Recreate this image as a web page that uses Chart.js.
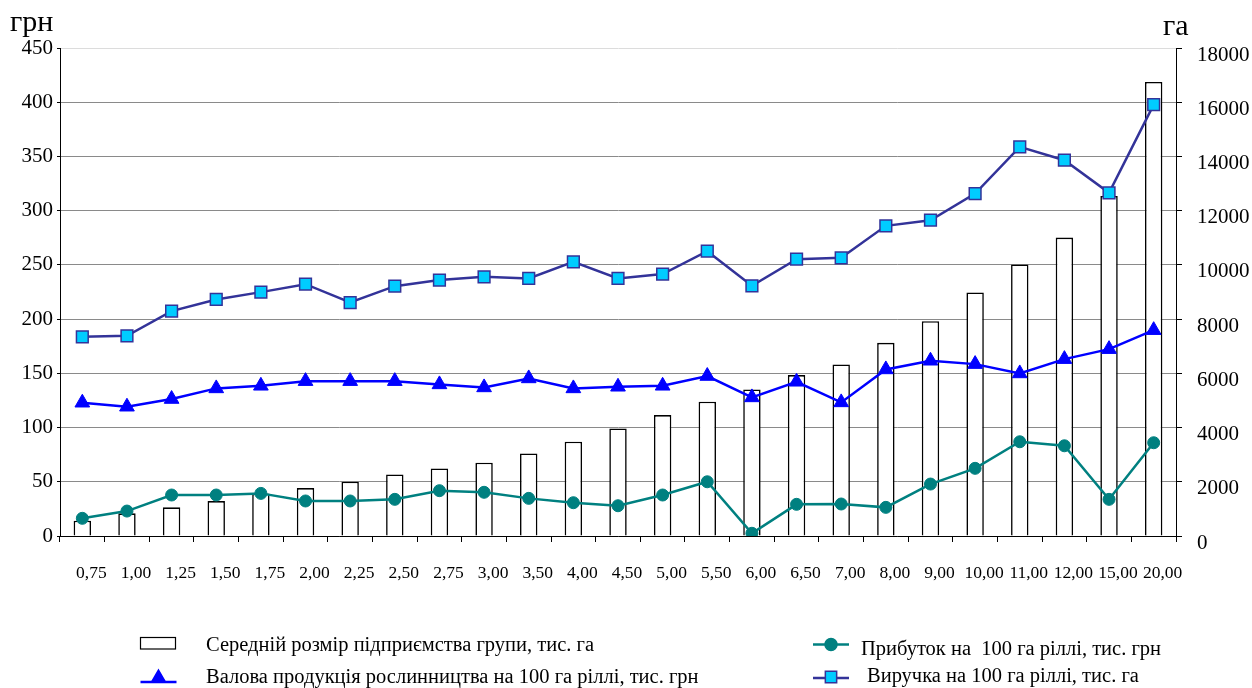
<!DOCTYPE html>
<html>
<head>
<meta charset="utf-8">
<script src="https://cdn.jsdelivr.net/npm/chart.js@4"></script>
<style>
  body { margin: 0; background: #fff; }
</style>
</head>
<body>
<canvas id="myChart" width="1252" height="688"></canvas>
<script>
const labels = ['0,75', '1,00', '1,25', '1,50', '1,75', '2,00', '2,25', '2,50', '2,75', '3,00',
    '3,50', '4,00', '4,50', '5,00', '5,50', '6,00', '6,50', '7,00', '8,00', '9,00',
    '10,00', '11,00', '12,00', '15,00', '20,00'];

// середній розмір підприємства, га (права вісь)
const sizeHa = [564, 836, 1057, 1290, 1565, 1769, 2003, 2273, 2494, 2703,
    3047, 3477, 3968, 4460, 4951, 5406, 5934, 6328, 7127, 7925,
    8982, 10014, 11009, 12545, 16747];

// ліва вісь, грн
const grossOutput = [122.9, 119.2, 126.3, 136.1, 138.5, 142.8, 142.8, 142.8, 139.8, 137.0,
    145.3, 136.1, 137.6, 138.5, 147.5, 127.8, 142.2, 123.2, 153.6, 161.6,
    158.5, 149.9, 163.1, 172.3, 189.8];
const profit = [16.3, 23.0, 37.8, 37.8, 39.3, 32.3, 32.3, 33.8, 41.8, 40.3,
    34.7, 30.7, 27.9, 37.8, 50.0, 2.5, 29.2, 29.5, 26.4, 47.9,
    62.4, 86.9, 83.2, 33.8, 86.0];
const revenue = [183.7, 184.6, 207.4, 218.1, 224.9, 232.2, 215.3, 230.4, 236.0, 239.0,
    237.5, 252.8, 237.5, 241.5, 262.6, 230.7, 255.3, 256.5, 286.0, 291.2,
    315.8, 358.8, 346.5, 316.4, 397.8];

const legendNames = [
    'Середній розмір підприємства групи, тис. га',
    'Валова продукція рослинництва на 100 га ріллі, тис. грн',
    'Прибуток на  100 га ріллі, тис. грн',
    'Виручка на 100 га ріллі, тис. га'
];

const serif = 'Liberation Serif, Times New Roman, serif';

const BLUE = '#0000FF';
const TEAL = '#008080';
const NAVY = '#333399';
const CYAN = '#00CCFF';

// підписи одиниць та легенда
const extras = {
    id: 'extras',
    afterDraw(chart) {
        const c = chart.ctx;
        c.save();
        c.fillStyle = '#000';
        c.font = '30px ' + serif;
        c.textBaseline = 'alphabetic';
        c.textAlign = 'left';
        c.fillText('грн', 10, 31);
        c.fillText('га', 1163, 35);

        // bar icon
        c.fillStyle = '#fff';
        c.strokeStyle = '#000';
        c.lineWidth = 1.2;
        c.fillRect(140.5, 637.5, 35, 11.5);
        c.strokeRect(140.5, 637.5, 35, 11.5);

        function lineIcon(x, lineY, y, color, style, fill, radius) {
            c.strokeStyle = color;
            c.lineWidth = 2.5;
            c.beginPath();
            c.moveTo(x - 18, lineY);
            c.lineTo(x + 18, lineY);
            c.stroke();
            c.fillStyle = fill;
            c.strokeStyle = color;
            c.lineWidth = 1.5;
            Chart.helpers.drawPoint(c, {pointStyle: style, radius: radius, borderWidth: 1.5}, x, y);
        }
        lineIcon(158.5, 682, 678, BLUE, 'triangle', BLUE, 8);
        lineIcon(831, 644.5, 644.5, TEAL, 'circle', TEAL, 6);
        lineIcon(831, 678, 677, NAVY, 'rect', CYAN, 8);

        c.fillStyle = '#000';
        c.font = '20.5px ' + serif;
        c.fillText(legendNames[0], 206, 650.5);
        c.fillText(legendNames[1], 206, 683);
        c.fillText(legendNames[2], 861, 655);
        c.fillText(legendNames[3], 867, 681.5);
        c.restore();
    }
};

const config = {
    type: 'bar',
    data: {
        labels: labels,
        datasets: [{
            type: 'line',
            label: legendNames[3],
            data: revenue,
            yAxisID: 'y',
            borderColor: NAVY,
            borderWidth: 2.5,
            pointStyle: 'rect',
            pointRadius: 8.3,
            pointBackgroundColor: CYAN,
            pointBorderColor: NAVY,
            pointBorderWidth: 1.5,
            tension: 0,
            order: 1
        }, {
            type: 'line',
            label: legendNames[1],
            data: grossOutput,
            yAxisID: 'y',
            borderColor: BLUE,
            borderWidth: 2.5,
            pointStyle: 'triangle',
            pointRadius: 8.5,
            pointBackgroundColor: BLUE,
            pointBorderColor: BLUE,
            pointBorderWidth: 1,
            tension: 0,
            order: 2
        }, {
            type: 'line',
            label: legendNames[2],
            data: profit,
            yAxisID: 'y',
            borderColor: TEAL,
            borderWidth: 2.5,
            pointStyle: 'circle',
            pointRadius: 6,
            pointBackgroundColor: TEAL,
            pointBorderColor: TEAL,
            pointBorderWidth: 1,
            tension: 0,
            order: 3
        }, {
            type: 'bar',
            label: legendNames[0],
            data: sizeHa,
            yAxisID: 'y1',
            backgroundColor: '#fff',
            borderColor: '#000',
            borderWidth: 1.6,
            categoryPercentage: 1,
            barPercentage: 0.39,
            order: 4
        }]
    },
    options: {
        responsive: false,
        devicePixelRatio: 1,
        animation: false,
        layout: {padding: {top: 48, left: 0, right: 0, bottom: 0}},
        plugins: {
            legend: {display: false},
            tooltip: {enabled: false}
        },
        scales: {
            x: {
                offset: true,
                grid: {offset: true, drawOnChartArea: false, tickLength: 6, tickColor: '#000'},
                border: {color: '#000', width: 1},
                ticks: {
                    color: '#000',
                    font: {family: serif, size: 17.5},
                    labelOffset: 9,
                    padding: 21,
                    maxRotation: 0,
                    autoSkip: false
                },
                afterFit: function(s) { s.height = 152; }
            },
            y: {
                position: 'left',
                min: 0,
                max: 450,
                ticks: {
                    stepSize: 50,
                    color: '#000',
                    font: {family: serif, size: 21},
                    padding: 4,
                    callback: function(v) { return String(v); }
                },
                grid: {
                    color: function(ctx) { return ctx.tick && ctx.tick.value === 450 ? '#dcdcdc' : '#8a8a8a'; },
                    tickLength: 3,
                    tickColor: '#000'
                },
                border: {color: '#000', width: 1},
                afterFit: function(s) { s.width = 60; }
            },
            y1: {
                position: 'right',
                min: 0,
                max: 18000,
                ticks: {
                    stepSize: 2000,
                    color: '#000',
                    font: {family: serif, size: 21},
                    padding: 15,
                    labelOffset: 7,
                    callback: function(v) { return String(v); }
                },
                grid: {drawOnChartArea: false, tickLength: 6, tickColor: '#000'},
                border: {color: '#000', width: 1},
                afterFit: function(s) { s.width = 76; }
            }
        }
    },
    plugins: [extras]
};

const ctx = document.getElementById('myChart').getContext('2d');
const myChart = new Chart(ctx, config);
</script>
</body>
</html>
